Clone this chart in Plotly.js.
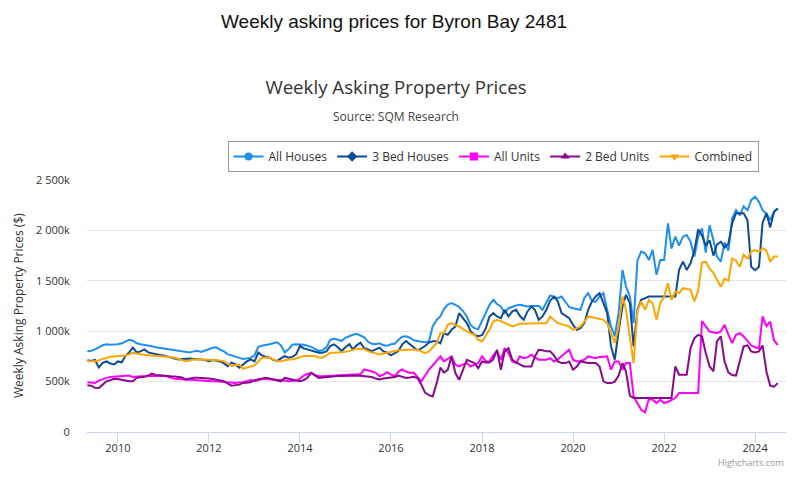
<!DOCTYPE html>
<html>
<head>
<meta charset="utf-8">
<script src="https://cdn.plot.ly/plotly-3.0.1.min.js"></script>
<style>
html,body{margin:0;padding:0;background:#fff;}
#chart{width:802px;height:480px;}
</style>
</head>
<body>
<div id="chart"></div>
<script>
// Monthly readings (k$) from May 2009 to Jul 2024
const firstYear = 2009, firstMonth = 5, lastYear = 2024, lastMonth = 7;

const allHouses = [
  800, 805, 820, 840, 860, 870, 865, 868,
  870, 880, 895, 915, 905, 880, 870, 865, 860, 850, 840, 835,
  830, 825, 820, 815, 810, 805, 800, 790, 800, 805, 795, 810,
  825, 835, 840, 815, 800, 770, 760, 745, 735, 725, 730, 735,
  760, 845, 855, 860, 870, 880, 890, 860, 790, 820, 865, 870,
  870, 865, 855, 845, 825, 805, 810, 840, 915, 925, 915, 905,
  935, 955, 965, 975, 960, 940, 895, 875, 870, 880, 860, 855,
  870, 875, 915, 945, 950, 935, 910, 900, 895, 890, 900, 1050,
  1110, 1150, 1220, 1265, 1278, 1262, 1240, 1200, 1146, 1060, 1030, 1020,
  1100, 1179, 1260, 1311, 1270, 1245, 1180, 1228, 1245, 1255, 1262, 1250,
  1245, 1250, 1248, 1250, 1212, 1290, 1355, 1340, 1328, 1344, 1290, 1240,
  1228, 1220, 1212, 1330, 1377, 1300, 1290, 1344, 1377, 1212, 1047, 950,
  1180, 1608, 1443, 1344, 1080, 1700, 1790, 1773, 1707, 1806, 1560, 1707,
  1707, 2070, 1820, 1938, 1850, 1938, 1955, 1889, 1740, 1938, 2021, 1780,
  2050, 1900, 1740, 1690, 1880, 1800, 2120, 2200, 2150, 2240, 2200, 2300,
  2334, 2284, 2200, 2169, 2103, 2185, 2218
];

const bed3Houses = [
  713, 705, 715, 640, 687, 700, 680, 670,
  700, 690, 753, 790, 837, 790, 800, 820, 790, 780, 775, 765,
  760, 753, 740, 730, 720, 725, 730, 728, 725, 725, 720, 715,
  703, 715, 705, 700, 680, 653, 687, 670, 637, 670, 700, 720,
  700, 787, 760, 745, 737, 715, 703, 730, 753, 737, 745, 770,
  853, 830, 820, 803, 795, 787, 787, 800, 853, 870, 840, 803,
  840, 870, 820, 860, 887, 830, 820, 803, 820, 837, 800, 787,
  760, 780, 803, 870, 903, 870, 837, 810, 830, 853, 887, 900,
  900, 880, 980, 965, 1014, 1047, 1179, 1130, 1080, 1000, 964, 950,
  960, 1030, 1146, 1179, 1146, 1130, 1212, 1146, 1196, 1212, 1150, 1113,
  1196, 1245, 1212, 1113, 1146, 1212, 1300, 1344, 1295, 1179, 1150, 1130,
  1063, 1014, 1030, 1080, 1212, 1295, 1344, 1377, 1278, 1179, 849, 717,
  1000, 1245, 1360, 1278, 849, 1212, 1311, 1328, 1344, 1344, 1344, 1344,
  1344, 1344, 1344, 1344, 1608, 1690, 1608, 1674, 1800, 2010, 1950, 1850,
  1900, 1750, 1860, 1889, 1830, 1872, 2070, 2170, 2170, 2170, 2100, 1640,
  1605, 1640, 2075, 2169, 2030, 2185, 2218
];

const allUnits = [
  493, 490, 487, 510, 525, 537, 545, 547,
  550, 553, 556, 560, 545, 550, 553, 552, 553, 555, 558, 560,
  558, 550, 540, 527, 525, 522, 520, 520, 515, 510, 505, 503,
  503, 503, 503, 500, 495, 490, 487, 487, 490, 493, 505, 515,
  503, 515, 525, 527, 525, 522, 520, 515, 510, 503, 505, 510,
  530, 560, 575, 587, 565, 553, 553, 556, 560, 563, 566, 568,
  570, 570, 570, 570, 575, 620, 613, 600, 587, 553, 570, 593,
  570, 553, 600, 620, 600, 585, 590, 540, 502, 560, 620, 660,
  700, 750, 700, 730, 750, 667, 650, 670, 684, 650, 670, 684,
  750, 700, 700, 760, 800, 717, 832, 783, 700, 684, 750, 733,
  740, 767, 740, 717, 717, 717, 733, 700, 720, 750, 790, 816,
  717, 700, 705, 717, 750, 740, 733, 745, 750, 750, 618, 700,
  700, 618, 684, 684, 353, 287, 221, 195, 330, 320, 287, 320,
  287, 300, 320, 337, 386, 386, 386, 386, 386, 386, 1100, 1050,
  997, 990, 980, 997, 1063, 965, 882, 965, 980, 948, 900, 860,
  840, 830, 1146, 1050, 1094, 910, 862
];

const bed2Units = [
  463, 460, 440, 437, 470, 503, 515, 527,
  525, 520, 510, 503, 503, 537, 540, 547, 560, 580, 565, 560,
  555, 553, 552, 550, 547, 540, 520, 530, 537, 537, 537, 535,
  530, 527, 520, 510, 503, 480, 460, 465, 470, 487, 490, 493,
  515, 525, 530, 537, 530, 520, 510, 503, 537, 525, 520, 510,
  503, 515, 537, 587, 560, 537, 540, 545, 550, 553, 555, 556,
  558, 560, 560, 560, 558, 555, 553, 545, 530, 520, 530, 537,
  540, 545, 560, 547, 535, 540, 547, 535, 470, 390, 365, 353,
  480, 640, 590, 617, 750, 585, 518, 617, 717, 700, 684, 634,
  700, 690, 690, 720, 816, 618, 800, 832, 717, 690, 667, 650,
  650, 650, 750, 816, 810, 800, 800, 760, 700, 684, 684, 700,
  618, 650, 700, 690, 684, 684, 684, 650, 502, 485, 485, 500,
  560, 684, 600, 360, 337, 337, 337, 337, 337, 337, 337, 337,
  337, 337, 337, 650, 568, 568, 568, 832, 931, 964, 948, 783,
  650, 601, 900, 950, 700, 590, 565, 560, 720, 849, 860, 800,
  790, 800, 860, 600, 460, 450, 485
];

const combined = [
  703, 703, 703, 712, 720, 735, 747, 750,
  753, 753, 760, 770, 787, 778, 770, 765, 762, 760, 757, 755,
  753, 748, 743, 737, 725, 710, 703, 710, 720, 720, 720, 720,
  720, 720, 715, 708, 703, 680, 653, 665, 670, 627, 640, 653,
  660, 700, 737, 737, 737, 720, 705, 703, 715, 720, 720, 730,
  745, 753, 753, 753, 753, 740, 737, 760, 787, 787, 787, 790,
  795, 803, 815, 827, 822, 820, 800, 787, 780, 770, 780, 787,
  795, 803, 810, 815, 815, 815, 815, 815, 800, 783, 799, 840,
  882, 980, 980, 1063, 1080, 1060, 1047, 1020, 997, 980, 964, 915,
  898, 964, 1014, 1096, 1113, 1100, 1080, 1060, 1047, 1060, 1074, 1075,
  1078, 1080, 1080, 1080, 1080, 1080, 1146, 1110, 1080, 1070, 1060, 1047,
  1014, 1030, 1047, 1096, 1146, 1138, 1130, 1120, 1113, 1080, 980, 882,
  1047, 1344, 1212, 950, 683, 1200, 1295, 1212, 1311, 1278, 1113, 1278,
  1344, 1476, 1311, 1394, 1377, 1427, 1420, 1410, 1295, 1400, 1680, 1690,
  1620, 1580, 1510, 1440, 1520, 1500, 1720, 1700, 1640, 1760, 1720, 1790,
  1806, 1790, 1823, 1800, 1690, 1740, 1740
];

const seriesNames = ['All Houses', '3 Bed Houses', 'All Units', '2 Bed Units', 'Combined'];
const seriesColors = ['#1e8ff0', '#0d4c94', '#ff00ff', '#8b0a8b', '#ffa500'];
const seriesSymbols = ['circle', 'diamond', 'square', 'triangle-up', 'triangle-down'];
const yTickVals = [0, 500, 1000, 1500, 2000, 2500];
const yTickText = ['0', '500k', '1 000k', '1 500k', '2 000k', '2 500k'];
const xTickYears = [2010, 2012, 2014, 2016, 2018, 2020, 2022, 2024];

// month-start dates for the time axis
const dates = [];
for (let y = firstYear, m = firstMonth; y < lastYear || (y === lastYear && m <= lastMonth); ) {
  dates.push(y + '-' + String(m).padStart(2, '0') + '-01');
  m++; if (m > 12) { m = 1; y++; }
}

const values = [allHouses, bed3Houses, allUnits, bed2Units, combined];
const traces = [];
values.forEach((v, i) => {
  traces.push({
    x: dates, y: v, type: 'scatter', mode: 'lines', name: seriesNames[i],
    line: {color: seriesColors[i], width: 2}, showlegend: false, hoverinfo: 'x+y'
  });
});
// legend entries (line + marker symbol like the original legend)
values.forEach((v, i) => {
  traces.push({
    x: [null], y: [null], type: 'scatter', mode: 'lines+markers', name: seriesNames[i],
    line: {color: seriesColors[i], width: 2},
    marker: {color: seriesColors[i], symbol: seriesSymbols[i], size: 8},
    showlegend: true
  });
});

const L = 87, R = 786, T = 180, B = 432;
const px = x => (x - L) / (R - L);
const py = y => (B - y) / (B - T);

const layout = {
  width: 802, height: 480,
  margin: {l: L, r: 802 - R, t: T, b: 480 - B, pad: 0},
  paper_bgcolor: '#fff', plot_bgcolor: '#fff',
  font: {family: 'Open Sans, sans-serif', color: '#333', size: 12},
  title: {
    text: 'Weekly Asking Property Prices',
    font: {family: 'Open Sans, sans-serif', size: 18.7, color: '#333'},
    xref: 'container', yref: 'container', x: 396 / 802, y: 1 - 87 / 480,
    xanchor: 'center', yanchor: 'middle'
  },
  xaxis: {
    type: 'date',
    range: ['2009-04-28', '2024-09-05'],
    tickvals: xTickYears.map(y => y + '-01-01'),
    ticktext: xTickYears.map(String),
    showgrid: false, zeroline: false,
    showline: true, linecolor: '#ccd6eb', linewidth: 1,
    ticks: 'outside', ticklen: 10, tickcolor: '#ccd6eb', tickwidth: 1,
    ticklabelstandoff: -4,
    tickfont: {size: 11, color: '#333'}
  },
  yaxis: {
    range: [0, 2500],
    tickvals: yTickVals, ticktext: yTickText,
    showgrid: true, gridcolor: '#e6e6e6', gridwidth: 1,
    zeroline: false, showline: false,
    ticks: 'outside', ticklen: 14, tickcolor: 'rgba(0,0,0,0)',
    tickfont: {size: 11, color: '#333'}
  },
  legend: {
    orientation: 'h', x: px(493), xanchor: 'center', y: py(141), yanchor: 'top',
    bordercolor: '#999', borderwidth: 1, bgcolor: '#fff',
    font: {size: 12, color: '#333', family: 'Open Sans, sans-serif'},
    itemclick: false, itemdoubleclick: false
  },
  annotations: [
    {text: 'Weekly asking prices for Byron Bay 2481', xref: 'paper', yref: 'paper',
     x: px(394), y: py(21), xanchor: 'center', yanchor: 'middle', showarrow: false,
     font: {family: 'Liberation Sans, Arial, sans-serif', size: 19, color: '#111'}},
    {text: 'Source: SQM Research', xref: 'paper', yref: 'paper',
     x: px(396), y: py(116), xanchor: 'center', yanchor: 'middle', showarrow: false,
     font: {size: 12, color: '#444'}},
    {text: 'Weekly Asking Property Prices ($)', xref: 'paper', yref: 'paper',
     x: px(18), y: 0.5, xanchor: 'center', yanchor: 'middle', textangle: -90, showarrow: false,
     font: {size: 12, color: '#333'}},
    {text: 'Highcharts.com', xref: 'paper', yref: 'paper',
     x: 1, y: py(462), xanchor: 'right', yanchor: 'middle', showarrow: false,
     font: {size: 9, color: '#999'}}
  ],
  showlegend: true
};

Plotly.newPlot('chart', traces, layout, {displayModeBar: false, staticPlot: true});
</script>
</body>
</html>
